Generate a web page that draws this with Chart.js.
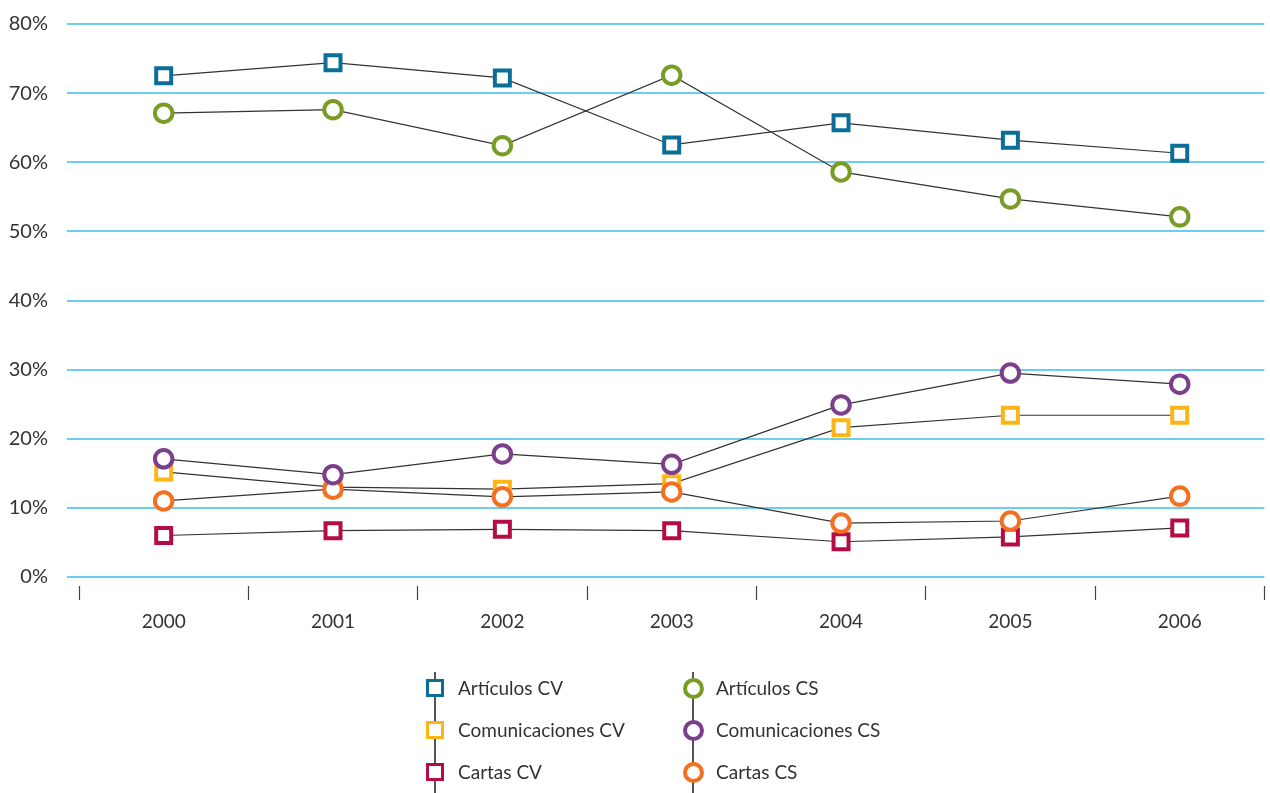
<!DOCTYPE html>
<html>
<head>
<meta charset="utf-8">
<script src="https://cdn.jsdelivr.net/npm/chart.js@4"></script>
<style>
  body { margin: 0; background: #fff; width: 1270px; height: 793px; overflow: hidden; position: relative; }
  #wrap { position: absolute; left: 0; top: 0; width: 1279px; height: 655px; }
  #legend { position: absolute; left: 0; top: 0; width: 1270px; height: 793px; pointer-events: none;
    font-family: Lato, sans-serif; font-size: 19px; color: #333; }
  .vline { position: absolute; top: 672px; bottom: 0; width: 1.5px; background: #555; }
  .item { position: absolute; height: 24px; line-height: 24px; white-space: nowrap; }
  .mk { position: absolute; box-sizing: border-box; background: #fff; }
</style>
</head>
<body>
<div id="wrap"><canvas id="chart" width="1279" height="655"></canvas></div>
<div id="legend"></div>
<script>
// Data
const years = ['2000', '2001', '2002', '2003', '2004', '2005', '2006'];
const yTicks = [0, 10, 20, 30, 40, 50, 60, 70, 80];

const articulosCV = [72.5, 74.4, 72.2, 62.5, 65.7, 63.2, 61.3];
const comunicacionesCV = [15.2, 13.0, 12.7, 13.5, 21.6, 23.4, 23.4];
const cartasCV = [6.0, 6.7, 6.9, 6.7, 5.1, 5.8, 7.1];
const articulosCS = [67.1, 67.6, 62.4, 72.6, 58.6, 54.7, 52.1];
const comunicacionesCS = [17.1, 14.8, 17.8, 16.3, 24.9, 29.5, 27.9];
const cartasCS = [11.0, 12.7, 11.6, 12.3, 7.8, 8.1, 11.7];

const FONT = 'Lato, sans-serif';

// Series (CV = squares, CS = circles)
const series = [
  { label: 'Artículos CS', data: articulosCS, color: '#7a9c27', style: 'circle', col: 1, row: 0 },
  { label: 'Comunicaciones CS', data: comunicacionesCS, color: '#7b3f8c', style: 'circle', col: 1, row: 1 },
  { label: 'Cartas CS', data: cartasCS, color: '#f37021', style: 'circle', col: 1, row: 2 },
  { label: 'Artículos CV', data: articulosCV, color: '#0a6e98', style: 'rect', col: 0, row: 0 },
  { label: 'Comunicaciones CV', data: comunicacionesCV, color: '#fdb515', style: 'rect', col: 0, row: 1 },
  { label: 'Cartas CV', data: cartasCV, color: '#b50d43', style: 'rect', col: 0, row: 2 }
];

const datasets = series.map(s => ({
  label: s.label,
  data: s.data,
  borderColor: '#333',
  borderWidth: 1.2,
  pointStyle: s.style,
  pointRadius: s.style === 'rect' ? 10.6 : 8.75,
  pointBorderWidth: 4,
  pointBorderColor: s.color,
  pointBackgroundColor: '#fff',
  tension: 0,
  fill: false
}));

new Chart(document.getElementById('chart'), {
  type: 'line',
  data: { labels: years, datasets },
  options: {
    responsive: false,
    animation: false,
    layout: { padding: { top: 24, right: 0, left: 0, bottom: 0 } },
    plugins: { legend: { display: false }, tooltip: { enabled: false } },
    scales: {
      x: {
        offset: true,
        afterFit: s => { s.height = 78; },
        border: { display: false },
        grid: {
          offset: true,
          drawOnChartArea: false,
          drawTicks: true,
          tickLength: 23,
          tickColor: '#444',
          tickWidth: 1.2,
          tickBorderDash: [0, 9, 14, 100]
        },
        ticks: { color: '#333', padding: 10, font: { family: FONT, size: 19 } }
      },
      y: {
        min: 0,
        max: 80,
        afterFit: s => { s.width = 79; s.paddingTop = 0; s.paddingBottom = 0; },
        afterBuildTicks: s => { s.ticks = yTicks.map(v => ({ value: v })); },
        border: { display: false },
        grid: { color: '#6ccdf0', lineWidth: 2, tickLength: 12, tickColor: '#6ccdf0' },
        ticks: {
          color: '#333',
          padding: 19,
          font: { family: FONT, size: 20 },
          callback: v => v + '%'
        }
      }
    }
  }
});

// Legend (two columns with a vertical rule through the markers)
const legend = document.getElementById('legend');
const colX = [435, 693];
const rowY = [688, 730, 772];
colX.forEach(x => {
  const l = document.createElement('div');
  l.className = 'vline';
  l.style.left = (x - 0.75) + 'px';
  legend.appendChild(l);
});
series.forEach(s => {
  const cx = colX[s.col], cy = rowY[s.row];
  const m = document.createElement('div');
  m.className = 'mk';
  if (s.style === 'rect') {
    m.style.cssText += `left:${cx - 9}px;top:${cy - 9}px;width:18px;height:18px;border:3.5px solid ${s.color};`;
  } else {
    m.style.cssText += `left:${cx - 10.5}px;top:${cy - 10.5}px;width:21px;height:21px;border:4px solid ${s.color};border-radius:50%;`;
  }
  legend.appendChild(m);
  const t = document.createElement('div');
  t.className = 'item';
  t.textContent = s.label;
  t.style.left = (cx + 23) + 'px';
  t.style.top = (cy - 12) + 'px';
  legend.appendChild(t);
});
</script>
</body>
</html>
